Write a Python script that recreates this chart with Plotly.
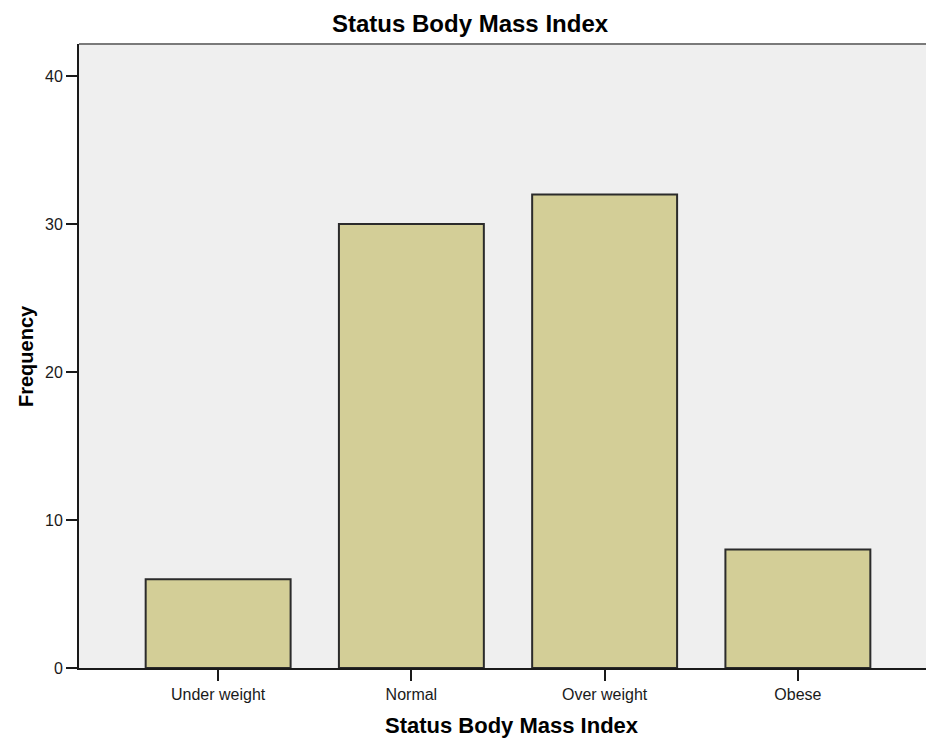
import plotly.graph_objects as go

categories = ["Under weight", "Normal", "Over weight", "Obese"]
frequency = [6, 30, 32, 8]
y_ticks = [0, 10, 20, 30, 40]

fig = go.Figure()
fig.add_trace(go.Bar(
    x=categories,
    y=frequency,
    width=0.75,
    marker=dict(color="#D3CE97", line=dict(color="#2b2b2b", width=2)),
))

fig.update_layout(
    width=926,
    height=740,
    margin=dict(l=79, r=0, t=44, b=72),
    paper_bgcolor="white",
    plot_bgcolor="#EFEFEF",
    showlegend=False,
    font=dict(family="Arial, Liberation Sans", size=16, color="#1a1a1a"),
)

fig.add_annotation(text="<b>Status Body Mass Index</b>", xref="paper", yref="paper",
                   x=(470 - 79) / 847, y=1, yanchor="middle", yshift=21, showarrow=False,
                   font=dict(size=24, color="black"))
fig.add_annotation(text="<b>Status Body Mass Index</b>", xref="paper", yref="paper",
                   x=(512 - 79) / 847, y=0, yanchor="middle", yshift=-57, showarrow=False,
                   font=dict(size=22, color="black"))
fig.add_annotation(text="<b>Frequency</b>", xref="paper", yref="paper",
                   x=(26 - 79) / 847, y=0.5, xanchor="center", yanchor="middle",
                   textangle=-90, showarrow=False,
                   font=dict(size=20, color="black"))

fig.update_xaxes(
    range=[-0.72, 3.663],
    showline=True, linecolor="#1a1a1a", linewidth=2,
    ticks="outside", ticklen=11, tickcolor="#1a1a1a", tickwidth=2,
    showgrid=False, zeroline=False,
    tickfont=dict(size=16),
)
fig.update_yaxes(
    range=[0, 42.16],
    tickvals=y_ticks,
    showline=True, linecolor="#1a1a1a", linewidth=2,
    ticks="outside", ticklen=11, tickcolor="#1a1a1a", tickwidth=2,
    showgrid=False, zeroline=False,
    tickfont=dict(size=16),
)
# gray top border of the plot frame
fig.add_shape(type="line", xref="paper", yref="paper", x0=0, x1=1, y0=1, y1=1,
              line=dict(color="#7a7a7a", width=2))

# drop the default page margin so the 926x740 figure fills the window
fig.write_html("out.html", config={"displayModeBar": False},
               post_script="document.body.style.margin='0';")
